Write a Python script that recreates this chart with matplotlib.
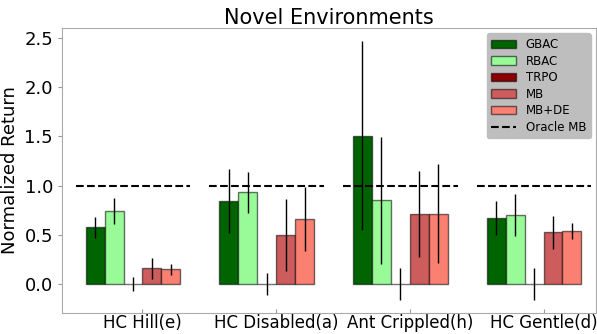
import numpy as np
import matplotlib
matplotlib.use('Agg')
import matplotlib.pyplot as plt
from matplotlib.patches import Patch
from matplotlib.lines import Line2D

# environments and normalized returns
envs = ['HC Hill(e)', 'HC Disabled(a)', 'Ant Crippled(h)', 'HC Gentle(d)']
methods = ['GBAC', 'RBAC', 'TRPO', 'MB', 'MB+DE']
colors = ['darkgreen', 'palegreen', 'darkred', 'indianred', 'salmon']

gbac = [0.575, 0.845, 1.505, 0.67]
gbac_err = [0.11, 0.325, 0.96, 0.17]
rbac = [0.74, 0.93, 0.85, 0.70]
rbac_err = [0.135, 0.21, 0.645, 0.21]
trpo = [0.0, 0.0, 0.0, 0.0]
trpo_err = [0.07, 0.115, 0.165, 0.16]
mb = [0.16, 0.495, 0.71, 0.525]
mb_err = [0.105, 0.365, 0.44, 0.17]
mbde = [0.15, 0.655, 0.715, 0.535]
mbde_err = [0.055, 0.325, 0.50, 0.083]
oracle = [1.0, 1.0, 1.0, 1.0]

values = [gbac, rbac, trpo, mb, mbde]
errors = [gbac_err, rbac_err, trpo_err, mb_err, mbde_err]

fig = plt.figure(figsize=(5.97, 3.34), dpi=100)
ax = fig.add_axes([0.1039, 0.0629, 0.8945, 0.8533])

x = np.arange(len(envs))
width = 0.142
edge = (0, 0, 0, 0.55)

handles = []
for i, (vals, errs) in enumerate(zip(values, errors)):
    ax.bar(x + (i - 2) * width, vals, width, yerr=errs, color=colors[i],
           edgecolor=edge, linewidth=1,
           error_kw=dict(ecolor='black', elinewidth=1, capsize=0))
    handles.append(Patch(facecolor=colors[i], edgecolor=edge, label=methods[i]))

# oracle model-based reference line per environment
for xi, o in zip(x, oracle):
    ax.plot([xi - 0.43, xi + 0.43], [o, o], 'k--', linewidth=1.5)
handles.append(Line2D([], [], color='black', linestyle='--', linewidth=1.5, label='Oracle MB'))

ax.set_xlim(-0.531, 3.464)
ax.set_ylim(-0.295, 2.6)
ax.set_xticks(x + width / 2)
ax.set_xticklabels(envs, fontsize=12)
ax.set_yticks([0.0, 0.5, 1.0, 1.5, 2.0, 2.5])
ax.tick_params(axis='y', labelsize=13, color='#999999', length=3)
ax.tick_params(axis='x', direction='in', color='#999999', length=3, pad=0.5)
for s in ax.spines.values():
    s.set_color('#aaaaaa')

ax.set_ylabel('Normalized Return', fontsize=13)
ax.set_title('Novel Environments', fontsize=15, pad=3)

leg = ax.legend(handles=handles, loc='upper right', fontsize=8.5, frameon=True,
                facecolor='#bebebe', edgecolor='#bebebe', framealpha=1,
                borderaxespad=0.45, handlelength=2.1, labelspacing=0.3)

plt.savefig('out.png', dpi=100)
